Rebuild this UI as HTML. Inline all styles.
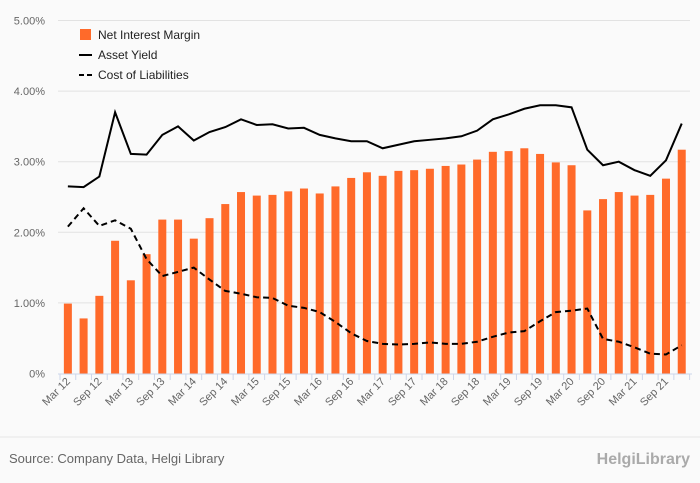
<!DOCTYPE html>
<html><head><meta charset="utf-8"><style>
body{margin:0;background:#fafafa;font-family:"Liberation Sans",sans-serif;}
svg{display:block}
</style></head><body>
<svg id="chart" width="700" height="483" xmlns="http://www.w3.org/2000/svg">
<rect width="700" height="483" fill="#fafafa"/>
<g id="grid"></g><g id="bars"></g><g id="lines"></g><g id="xaxis"></g>
<g font-size="12" fill="#222">
<rect x="80" y="29" width="11" height="11" fill="#ff6a2a"/>
<text x="98" y="39">Net Interest Margin</text>
<line x1="79" y1="55" x2="92" y2="55" stroke="#000" stroke-width="2"/>
<text x="98" y="59">Asset Yield</text>
<line x1="79" y1="75" x2="92" y2="75" stroke="#000" stroke-width="2" stroke-dasharray="5,3"/>
<text x="98" y="79">Cost of Liabilities</text>
</g>
<line x1="0" y1="437" x2="700" y2="437" stroke="#e6e6e6"/>
<text x="9" y="463" font-size="13" fill="#666">Source: Company Data, Helgi Library</text>
<text x="690" y="464" font-size="16" fill="#aaa" text-anchor="end" font-weight="bold">HelgiLibrary</text>
</svg>
<script>
const categories=["Mar 12","Jun 12","Sep 12","Dec 12","Mar 13","Jun 13","Sep 13","Dec 13","Mar 14","Jun 14","Sep 14","Dec 14","Mar 15","Jun 15","Sep 15","Dec 15","Mar 16","Jun 16","Sep 16","Dec 16","Mar 17","Jun 17","Sep 17","Dec 17","Mar 18","Jun 18","Sep 18","Dec 18","Mar 19","Jun 19","Sep 19","Dec 19","Mar 20","Jun 20","Sep 20","Dec 20","Mar 21","Jun 21","Sep 21","Dec 21"];
const nim=[0.99,0.78,1.10,1.88,1.32,1.69,2.18,2.18,1.91,2.20,2.40,2.57,2.52,2.53,2.58,2.62,2.55,2.65,2.77,2.85,2.80,2.87,2.88,2.90,2.94,2.96,3.03,3.14,3.15,3.19,3.11,2.99,2.95,2.31,2.47,2.57,2.52,2.53,2.76,3.17];
const assetYield=[2.65,2.64,2.79,3.70,3.11,3.10,3.38,3.50,3.30,3.42,3.49,3.60,3.52,3.53,3.47,3.48,3.38,3.33,3.29,3.29,3.19,3.24,3.29,3.31,3.33,3.36,3.44,3.60,3.67,3.75,3.80,3.80,3.77,3.17,2.95,3.00,2.88,2.80,3.02,3.54];
const costLiab=[2.08,2.34,2.09,2.17,2.05,1.62,1.38,1.44,1.50,1.33,1.17,1.13,1.08,1.07,0.96,0.93,0.87,0.73,0.57,0.46,0.42,0.41,0.42,0.44,0.42,0.42,0.45,0.52,0.58,0.60,0.74,0.87,0.89,0.92,0.49,0.45,0.37,0.28,0.27,0.40];
const yTicks=[0,1,2,3,4,5];
const yTickLabels=["0%","1.00%","2.00%","3.00%","4.00%","5.00%"];
const NS="http://www.w3.org/2000/svg";
const x0=60,bw=15.74,yBase=373.5,pxPer=70.6;
const xc=i=>x0+bw*(i+0.5);
const y=v=>yBase-v*pxPer;
function mk(tag,attrs,parent){const e=document.createElementNS(NS,tag);for(const k in attrs)e.setAttribute(k,attrs[k]);parent.appendChild(e);return e;}
const grid=document.getElementById('grid');
yTicks.forEach((t,i)=>{
  if(t>0){const l=mk('line',{x1:58,x2:690,y1:y(t),y2:y(t),stroke:'#e2e2e2'},grid);
  
  }
  const tx=mk('text',{x:45,y:y(t)+4,'text-anchor':'end','font-size':11,fill:'#666'},grid);
  tx.textContent=yTickLabels[i];
  
  
});
const bars=document.getElementById('bars');
nim.forEach((v,i)=>{
  const r=mk('rect',{x:xc(i)-4,y:y(v),width:8,height:yBase-y(v),fill:'#ff6a2a'},bars);
  
  
});
const lines=document.getElementById('lines');
const p1=mk('polyline',{points:assetYield.map((v,i)=>xc(i)+','+y(v)).join(' '),fill:'none',stroke:'#000','stroke-width':2},lines);


const p2=mk('polyline',{points:costLiab.map((v,i)=>xc(i)+','+y(v)).join(' '),fill:'none',stroke:'#000','stroke-width':2,'stroke-dasharray':'6,4'},lines);


const xa=document.getElementById('xaxis');
const al=mk('line',{x1:58,x2:692,y1:374,y2:374,stroke:'#ccd6eb'},xa);


for(let i=0;i<=categories.length;i++){
  const tk=mk('line',{x1:x0+bw*i,x2:x0+bw*i,y1:374,y2:380,stroke:'#ccd6eb'},xa);
  
  
}
categories.forEach((c,i)=>{
  if(i%2)return;
  const cx=xc(i)+3,cy=382;
  const t=mk('text',{x:cx,y:cy,'text-anchor':'end','font-size':11,fill:'#666',transform:`rotate(-45 ${cx} ${cy})`},xa);
  t.textContent=c;
  
  
});
</script>
</body></html>
